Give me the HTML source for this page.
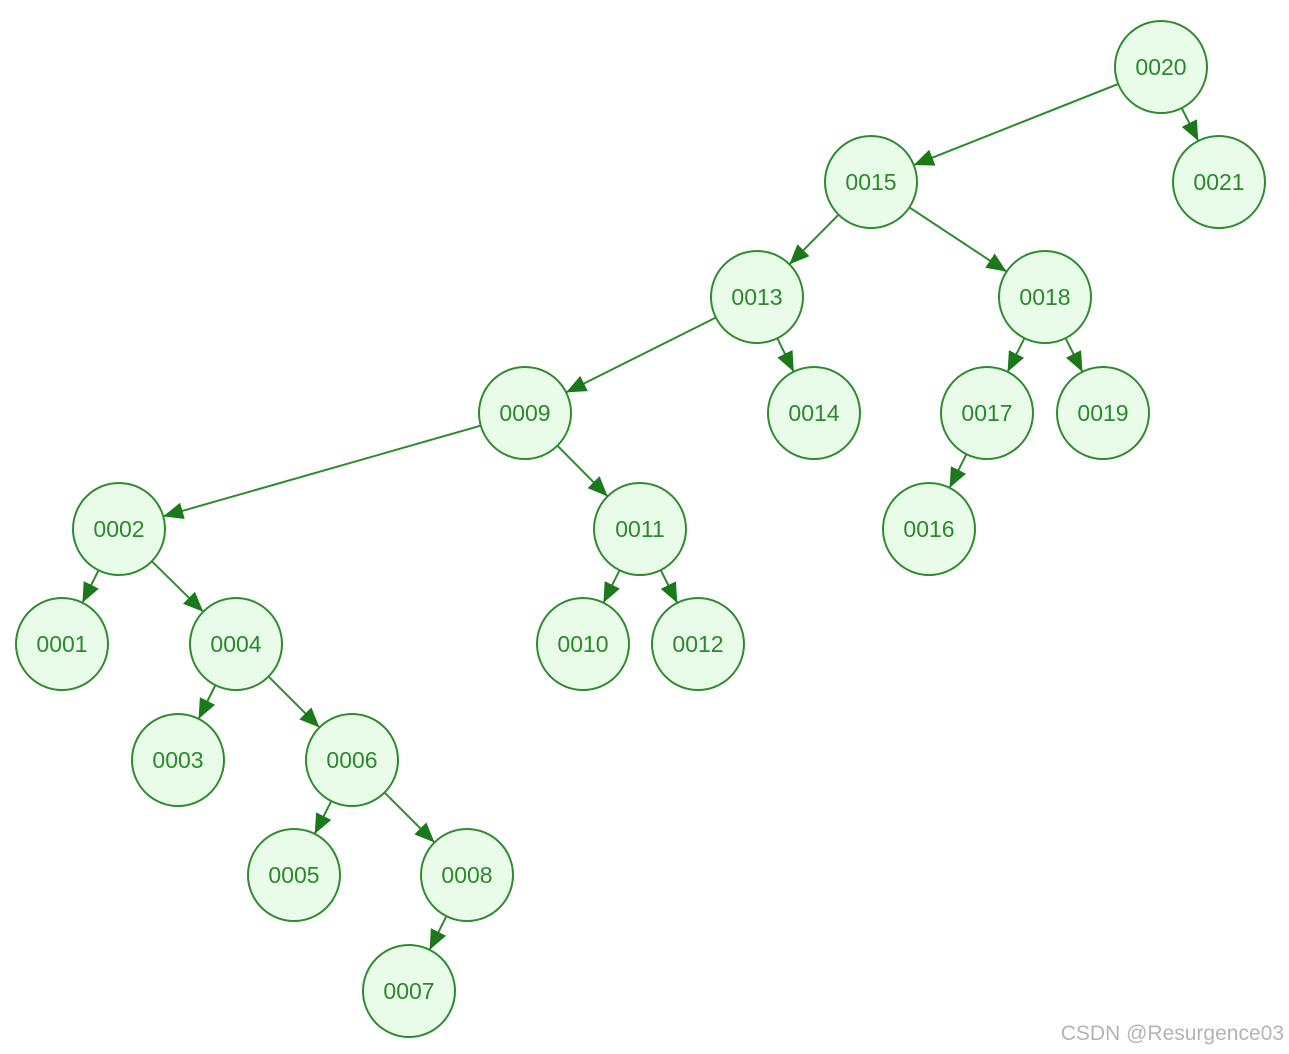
<!DOCTYPE html>
<html><head><meta charset="utf-8"><style>
html,body{margin:0;padding:0;background:#fff;width:1289px;height:1054px;overflow:hidden}
svg{display:block}
text{font-family:"Liberation Sans",sans-serif}
</style></head><body>
<svg width="1289" height="1054" viewBox="0 0 1289 1054" xmlns="http://www.w3.org/2000/svg">
<defs>
<marker id="a" markerUnits="userSpaceOnUse" markerWidth="80" markerHeight="24" viewBox="0 -12 80 24" refX="66" refY="0" orient="auto">
<path d="M0,-8.5 L20,0 L0,8.5 z" fill="#1a7a1a"/>
</marker>
</defs>
<g stroke="#2e8b2e" stroke-width="2" marker-end="url(#a)">
<line x1="1161" y1="67" x2="871" y2="182"/>
<line x1="1161" y1="67" x2="1219" y2="182"/>
<line x1="871" y1="182" x2="757" y2="297"/>
<line x1="871" y1="182" x2="1045" y2="297"/>
<line x1="757" y1="297" x2="525" y2="413"/>
<line x1="757" y1="297" x2="814" y2="413"/>
<line x1="1045" y1="297" x2="987" y2="413"/>
<line x1="1045" y1="297" x2="1103" y2="413"/>
<line x1="525" y1="413" x2="119" y2="529"/>
<line x1="525" y1="413" x2="640" y2="529"/>
<line x1="987" y1="413" x2="929" y2="529"/>
<line x1="119" y1="529" x2="62" y2="644"/>
<line x1="119" y1="529" x2="236" y2="644"/>
<line x1="640" y1="529" x2="583" y2="644"/>
<line x1="640" y1="529" x2="698" y2="644"/>
<line x1="236" y1="644" x2="178" y2="760"/>
<line x1="236" y1="644" x2="352" y2="760"/>
<line x1="352" y1="760" x2="294" y2="875"/>
<line x1="352" y1="760" x2="467" y2="875"/>
<line x1="467" y1="875" x2="409" y2="991"/>
</g>
<g fill="#e9fbe9" stroke="#2e8b2e" stroke-width="2">
<circle cx="1161" cy="67" r="46"/><circle cx="871" cy="182" r="46"/><circle cx="1219" cy="182" r="46"/>
<circle cx="757" cy="297" r="46"/><circle cx="1045" cy="297" r="46"/>
<circle cx="525" cy="413" r="46"/><circle cx="814" cy="413" r="46"/><circle cx="987" cy="413" r="46"/><circle cx="1103" cy="413" r="46"/>
<circle cx="119" cy="529" r="46"/><circle cx="640" cy="529" r="46"/><circle cx="929" cy="529" r="46"/>
<circle cx="62" cy="644" r="46"/><circle cx="236" cy="644" r="46"/><circle cx="583" cy="644" r="46"/><circle cx="698" cy="644" r="46"/>
<circle cx="178" cy="760" r="46"/><circle cx="352" cy="760" r="46"/>
<circle cx="294" cy="875" r="46"/><circle cx="467" cy="875" r="46"/>
<circle cx="409" cy="991" r="46"/>
</g>
<g fill="#2a8a2a" font-size="23" text-anchor="middle">
<text x="1161" y="75">0020</text><text x="871" y="190">0015</text><text x="1219" y="190">0021</text>
<text x="757" y="305">0013</text><text x="1045" y="305">0018</text>
<text x="525" y="421">0009</text><text x="814" y="421">0014</text><text x="987" y="421">0017</text><text x="1103" y="421">0019</text>
<text x="119" y="537">0002</text><text x="640" y="537">0011</text><text x="929" y="537">0016</text>
<text x="62" y="652">0001</text><text x="236" y="652">0004</text><text x="583" y="652">0010</text><text x="698" y="652">0012</text>
<text x="178" y="768">0003</text><text x="352" y="768">0006</text>
<text x="294" y="883">0005</text><text x="467" y="883">0008</text>
<text x="409" y="999">0007</text>
</g>
<text x="1284" y="1040" text-anchor="end" font-size="21" fill="#b4b4b4">CSDN @Resurgence03</text>
</svg>
</body></html>
